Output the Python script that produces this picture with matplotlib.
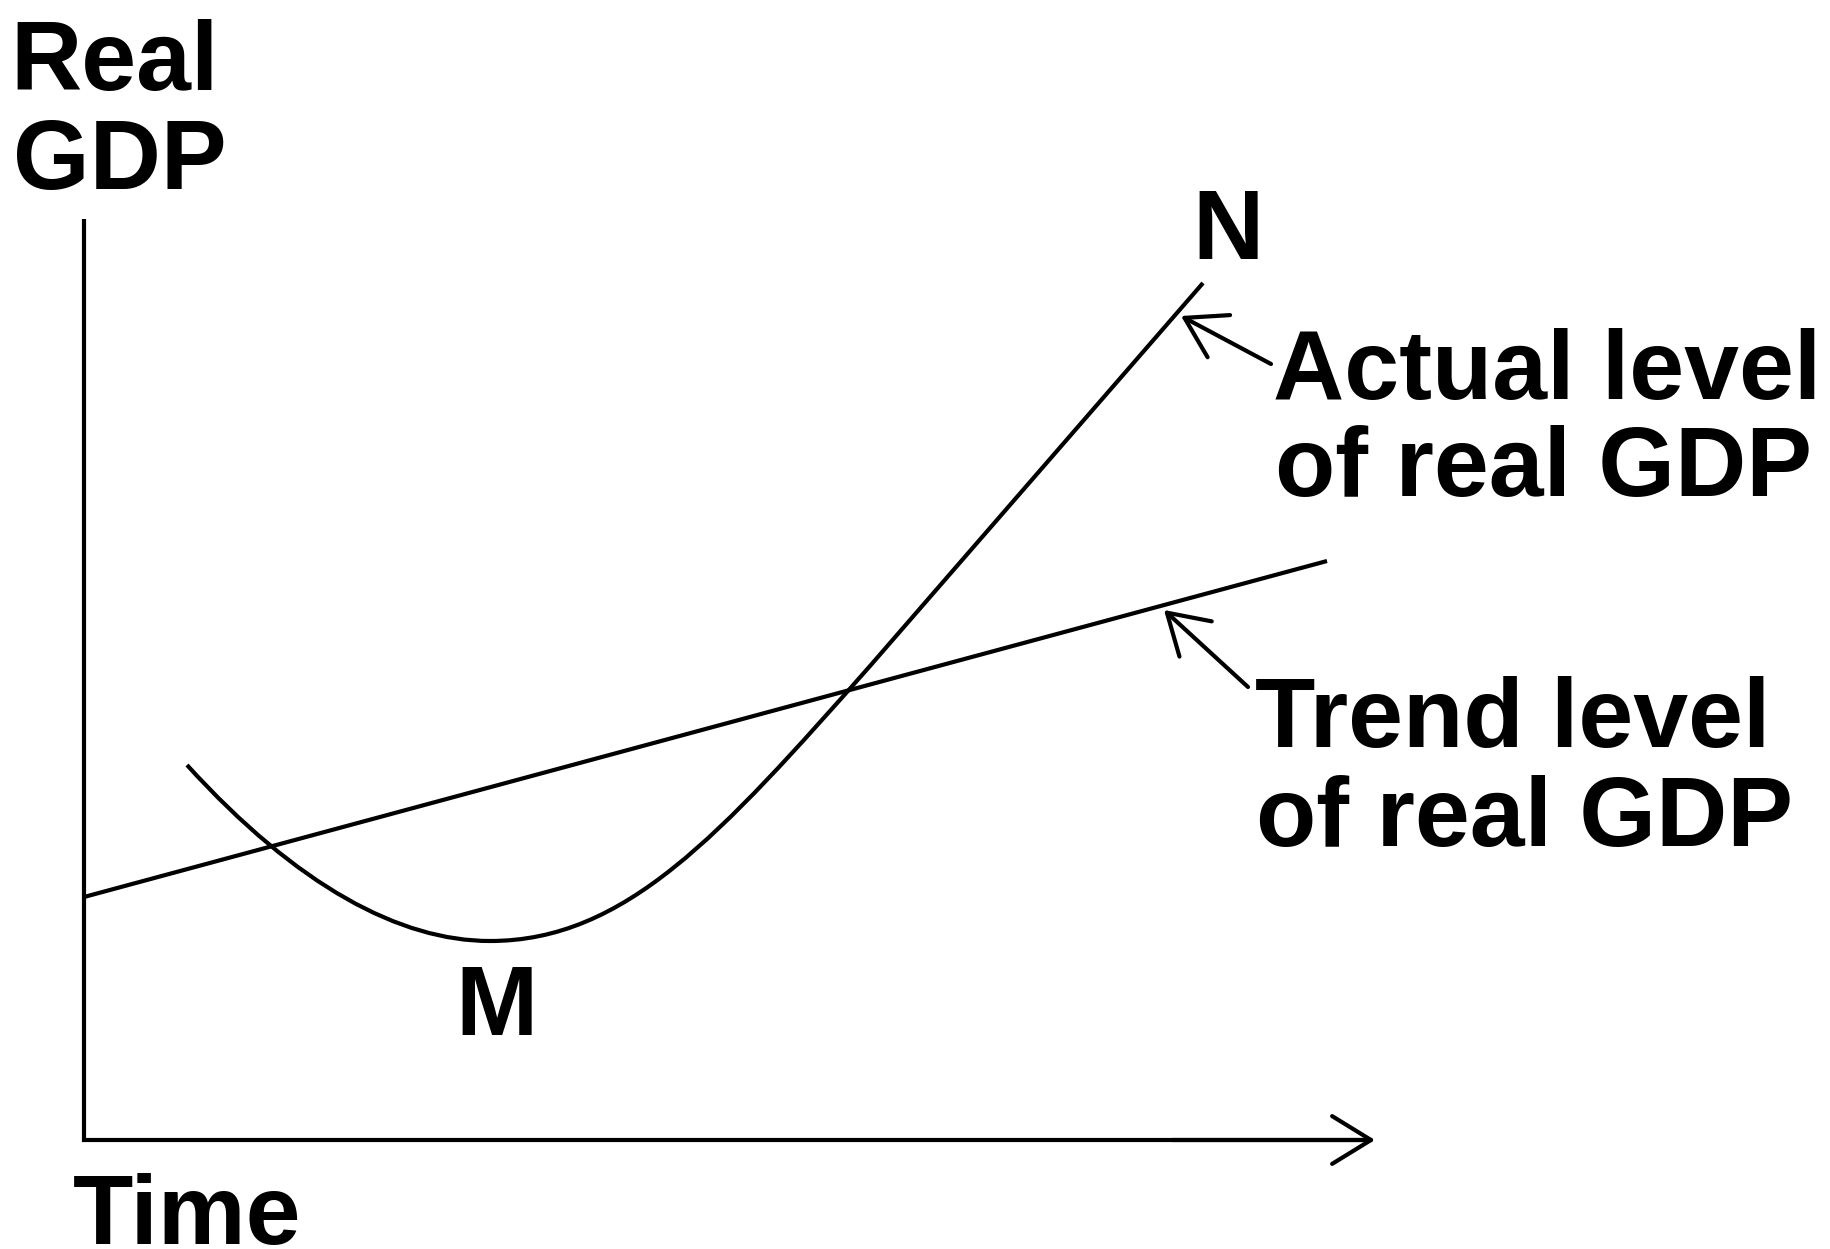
import matplotlib
matplotlib.use("Agg")
import matplotlib.pyplot as plt
from matplotlib.path import Path
from matplotlib.patches import PathPatch, ArrowStyle

# ---- chart data (time, real GDP) in schematic units, origin at axis corner ----
axis_time = [0, 0, 1288]          # y-axis top -> origin -> x-axis end
axis_gdp = [921, 0, 0]

trend_time = [0, 1243]
trend_gdp = [243, 579]

# actual GDP path: start, bezier controls, trough M, bezier controls, straight run to N
actual_time = [103, 213, 316, 406, 541, 636, 786, 1119]
actual_gdp = [375, 254, 199, 199, 199, 304.5, 474, 857]

# annotation arrows (tail -> tip)
actual_arrow_tail = (1187, 776)
actual_arrow_tip = (1097, 824)
trend_arrow_tail = (1164, 453)
trend_arrow_tip = (1080, 530)

labels = ["Real", "GDP", "N", "M", "Actual level", "of real GDP",
          "Trend level", "of real GDP", "Time"]
label_time = [-74, -71, 1108, 371, 1189, 1191, 1171, 1172, -11]
label_gdp = [1050, 951, 881, 105, 741, 644, 393, 294, -104]

LW = 3.0
FONT = ["Liberation Sans", "DejaVu Sans"]

fig = plt.figure(figsize=(18.3, 12.49), dpi=100)
ax = fig.add_axes([0, 0, 1, 1])
ax.set_xlim(-84, 1746)
ax.set_ylim(-109, 1140)
ax.axis("off")

# axes lines
ax.plot(axis_time, axis_gdp, color="black", lw=LW,
        solid_joinstyle="miter", solid_capstyle="butt")

head = ArrowStyle("->", head_length=1.40, head_width=0.86)
arrowprops = dict(arrowstyle=head, lw=LW, color="black", shrinkA=0, shrinkB=0,
                  mutation_scale=20, capstyle="round", joinstyle="round")

# x-axis arrow head
ax.annotate("", xy=(axis_time[-1] + 3, axis_gdp[-1]),
            xytext=(axis_time[-1] - 200, axis_gdp[-1]), arrowprops=arrowprops)

# trend line
ax.plot(trend_time, trend_gdp, color="black", lw=LW, solid_capstyle="butt")

# actual curve
codes = [Path.MOVETO, Path.CURVE4, Path.CURVE4, Path.CURVE4,
         Path.CURVE4, Path.CURVE4, Path.CURVE4, Path.LINETO]
path = Path(list(zip(actual_time, actual_gdp)), codes)
ax.add_patch(PathPatch(path, facecolor="none", edgecolor="black", lw=LW,
                       capstyle="butt"))

# pointer arrows
ax.annotate("", xy=actual_arrow_tip, xytext=actual_arrow_tail, arrowprops=arrowprops)
ax.annotate("", xy=trend_arrow_tip, xytext=trend_arrow_tail, arrowprops=arrowprops)

for s, x, y in zip(labels, label_time, label_gdp):
    ax.text(x, y, s, fontsize=71, fontweight="bold", family=FONT,
            ha="left", va="baseline", color="black")

fig.savefig("out.png", dpi=100, facecolor="white")
